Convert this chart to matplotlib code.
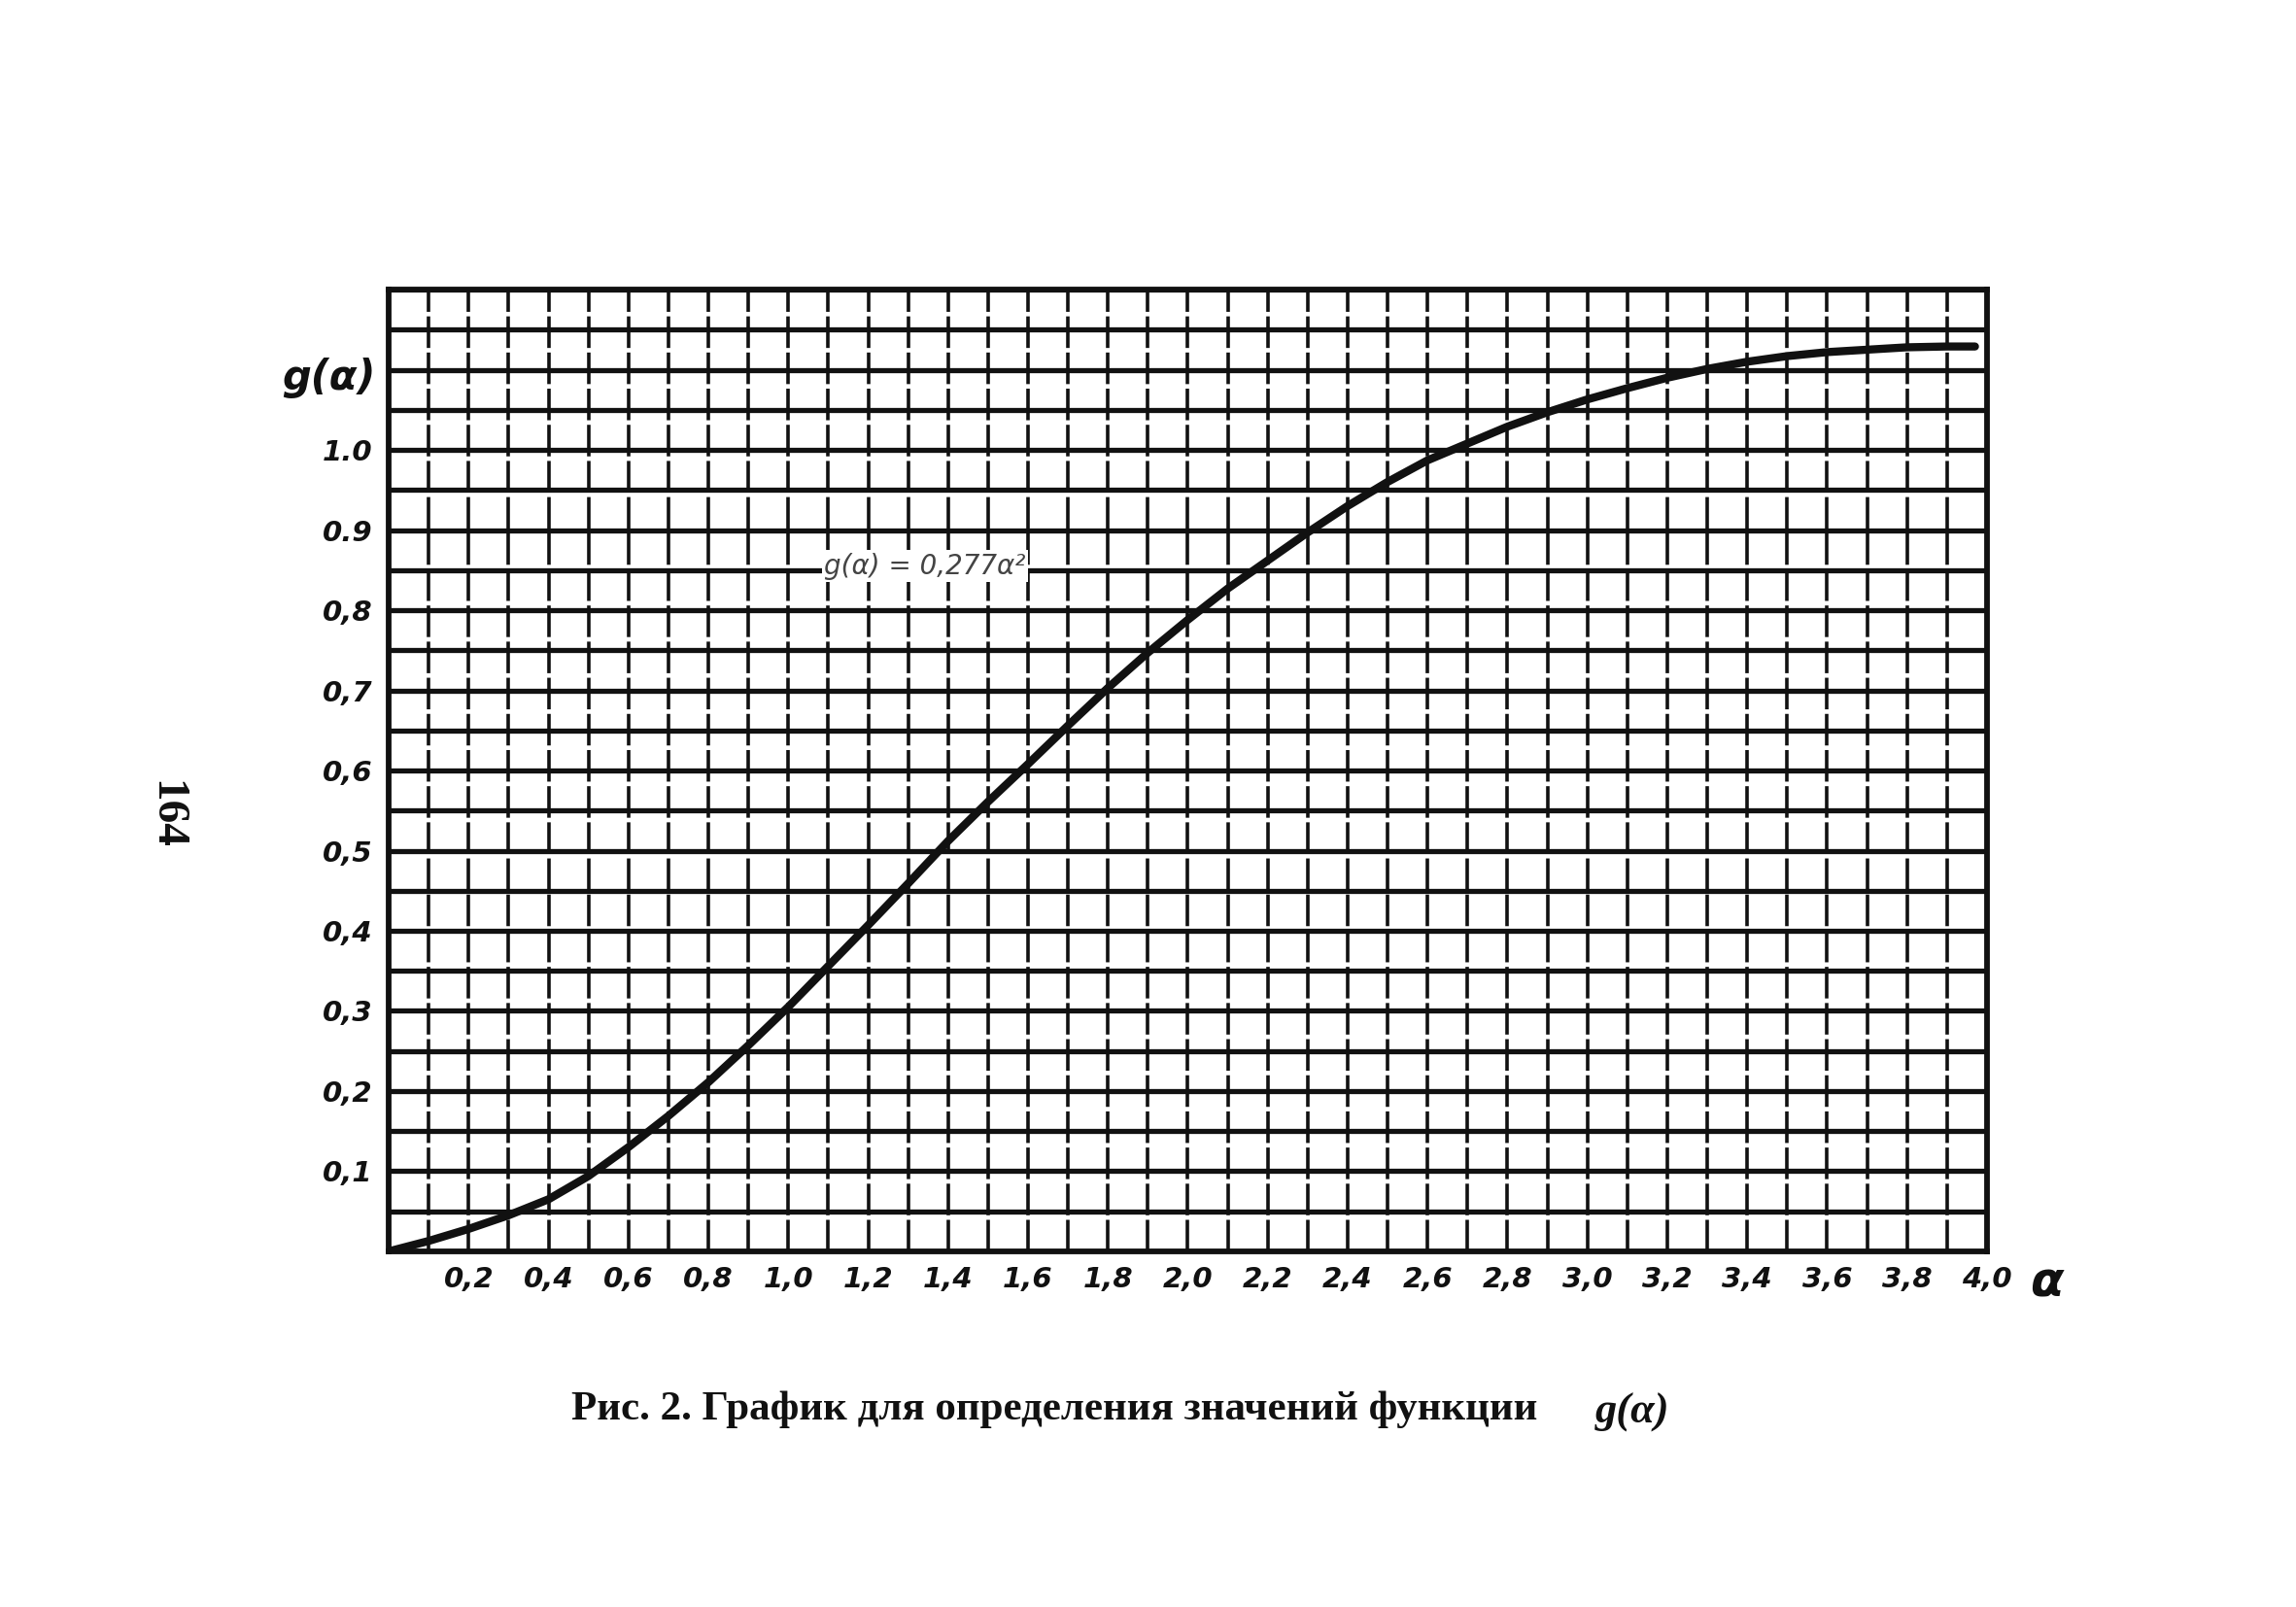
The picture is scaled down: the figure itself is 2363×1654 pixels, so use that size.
import matplotlib.pyplot as plt
from matplotlib.ticker import MultipleLocator

# values
alpha = [0.0, 0.1, 0.2, 0.3, 0.4, 0.5, 0.6, 0.7, 0.8, 0.9,
         1.0, 1.1, 1.2, 1.3, 1.4, 1.5, 1.6, 1.7, 1.8, 1.9,
         2.0, 2.1, 2.2, 2.3, 2.4, 2.5, 2.6, 2.7, 2.8, 2.9,
         3.0, 3.1, 3.2, 3.3, 3.4, 3.5, 3.6, 3.7, 3.8, 3.9, 3.97]
g_alpha = [0.0, 0.013, 0.028, 0.045, 0.065, 0.094, 0.130, 0.169, 0.211, 0.257,
           0.305, 0.356, 0.407, 0.459, 0.512, 0.561, 0.608, 0.656, 0.703, 0.747,
           0.788, 0.827, 0.862, 0.897, 0.930, 0.960, 0.987, 1.008, 1.029, 1.047,
           1.063, 1.077, 1.090, 1.101, 1.110, 1.117, 1.122, 1.125, 1.128, 1.129, 1.129]

x_ticks = [0.2, 0.4, 0.6, 0.8, 1.0, 1.2, 1.4, 1.6, 1.8, 2.0,
           2.2, 2.4, 2.6, 2.8, 3.0, 3.2, 3.4, 3.6, 3.8, 4.0]
x_labels = ["0,2", "0,4", "0,6", "0,8", "1,0", "1,2", "1,4", "1,6", "1,8", "2,0",
            "2,2", "2,4", "2,6", "2,8", "3,0", "3,2", "3,4", "3,6", "3,8", "4,0"]
y_ticks = [0.1, 0.2, 0.3, 0.4, 0.5, 0.6, 0.7, 0.8, 0.9, 1.0]
y_labels = ["0,1", "0,2", "0,3", "0,4", "0,5", "0,6", "0,7", "0,8", "0.9", "1.0"]

caption = "Рис. 2. График для определения значений функции"
formula = "g(α) = 0,277α²"

INK = "#111111"
hand = "DejaVu Sans"

fig = plt.figure(figsize=(23.63, 16.54), dpi=100)
ax = fig.add_axes([0.1693, 0.2213, 0.6961, 0.5985])

ax.set_xlim(0, 4.0)
ax.set_ylim(0, 1.2)

ax.xaxis.set_minor_locator(MultipleLocator(0.1))
ax.yaxis.set_minor_locator(MultipleLocator(0.05))
ax.set_xticks(x_ticks)
ax.set_xticklabels(x_labels)
ax.set_yticks(y_ticks)
ax.set_yticklabels(y_labels)
ax.tick_params(which="both", length=0)
ax.tick_params(axis="x", pad=11)
ax.tick_params(axis="y", pad=12)
for lab in ax.get_xticklabels() + ax.get_yticklabels():
    lab.set_family(hand)
    lab.set_fontsize(21)
    lab.set_fontstyle("italic")
    lab.set_fontweight("bold")
    lab.set_color(INK)

ax.grid(which="both", axis="y", color=INK, linewidth=3.8, linestyle="-")
ax.grid(which="both", axis="x", color=INK, linewidth=2.6, linestyle=(0, (9, 1.3)))
ax.set_axisbelow(True)
for sp in ax.spines.values():
    sp.set_linewidth(4.2)
    sp.set_color(INK)

ax.plot(alpha, g_alpha, color=INK, linewidth=6, solid_capstyle="round",
        solid_joinstyle="round", zorder=3)

ax.text(1.09, 0.855, formula, fontsize=20, fontstyle="italic", color="#444444",
        va="center", ha="left",
        bbox=dict(facecolor="white", edgecolor="none", pad=2), zorder=4)

ax.text(-0.15, 1.09, "g(α)", fontsize=30, fontstyle="italic", fontweight="bold",
        family=hand, color=INK, ha="center", va="center", clip_on=False)
ax.text(4.15, -0.04, "α", fontsize=36, fontstyle="italic", fontweight="bold",
        color=INK, ha="center", va="center", clip_on=False)

fig.text(0.072, 0.493, "164", fontsize=34, fontweight="bold", family="Liberation Serif",
         rotation=-90, ha="center", va="center", color=INK)
fig.text(0.249, 0.123, caption, fontsize=31, fontweight="bold", family="Liberation Serif",
         ha="left", va="center", color=INK)
fig.text(0.695, 0.121, "g(α)", fontsize=32, fontweight="bold", fontstyle="italic",
         family="Liberation Serif", ha="left", va="center", color=INK)

fig.savefig("out.png", dpi=100, facecolor="white")
